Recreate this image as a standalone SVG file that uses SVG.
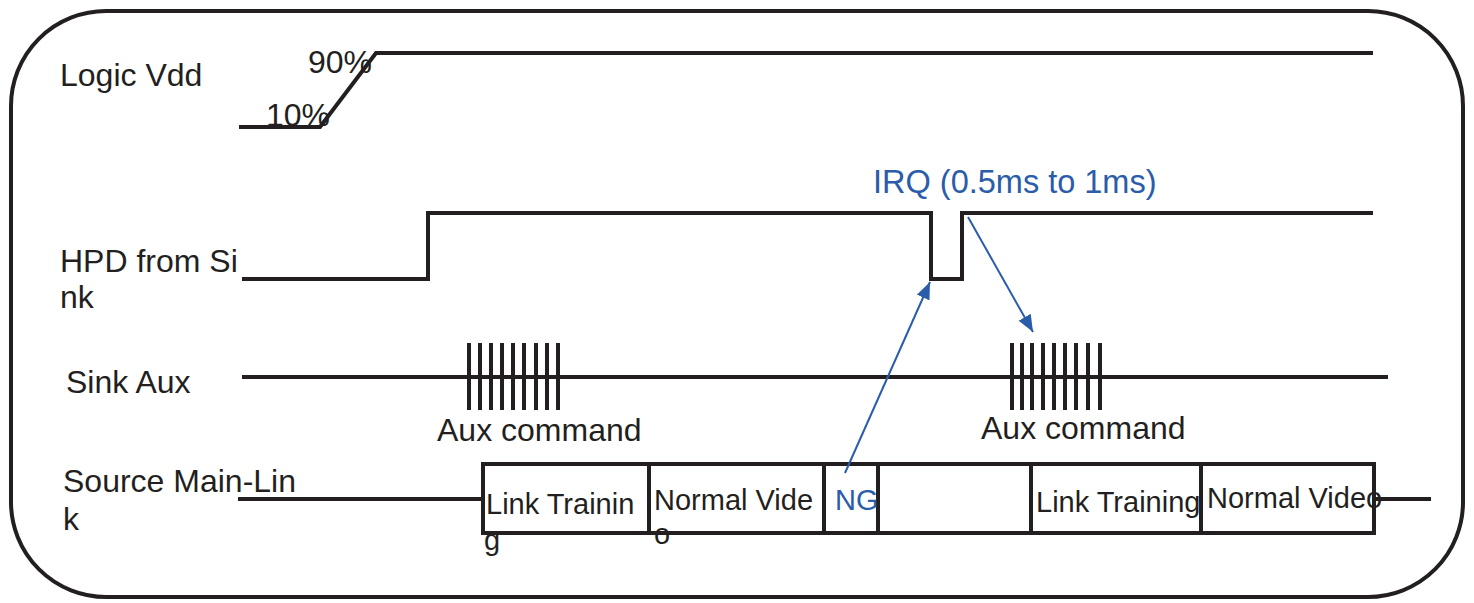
<svg xmlns="http://www.w3.org/2000/svg" width="1474" height="603" viewBox="0 0 1474 603">
<style>
.sig{fill:none;stroke:#231f20;stroke-width:4;stroke-linejoin:miter}
.lbl{font-family:"Liberation Sans",Arial,sans-serif;font-size:32px;fill:#231f20}
.box{font-family:"Liberation Sans",Arial,sans-serif;font-size:29px;fill:#231f20}
.blue{fill:#2a5caa}
.arr{stroke:#2a5caa;stroke-width:2;fill:none}
</style>
<defs>
<marker id="ah" viewBox="0 0 10 10" refX="10" refY="5" markerWidth="17" markerHeight="14" orient="auto" markerUnits="userSpaceOnUse" preserveAspectRatio="none">
<path d="M0,0 L10,5 L0,10 z" fill="#2a5caa"/>
</marker>
</defs>
<rect x="11" y="11" width="1452" height="586" rx="95" ry="95" fill="#fff" stroke="#231f20" stroke-width="4"/>

<g id="logic-vdd">
<text class="lbl" x="60" y="86">Logic Vdd</text>
<polyline class="sig" points="239,127 320,127 376,53 1373,53"/>
<text class="lbl" x="308" y="73">90%</text>
<text class="lbl" x="266" y="126">10%</text>
</g>

<g id="hpd">
<text class="lbl" x="60" y="272">HPD from Si</text>
<text class="lbl" x="60" y="308">nk</text>
<polyline class="sig" points="242,279 428,279 428,213 931,213 931,279 962,279 962,213 1373,213"/>
<text class="lbl blue" x="873" y="193" style="font-size:32.5px">IRQ (0.5ms to 1ms)</text>
</g>

<g id="sink-aux">
<text class="lbl" x="66" y="393">Sink Aux</text>
<line class="sig" x1="242" y1="377" x2="1388" y2="377"/>
<path class="sig" d="M469,343V410M480,343V410M491,343V410M502,343V410M513,343V410M524,343V410M536,343V410M547,343V410M558,343V410"/>
<path class="sig" d="M1012,343V410M1022,343V410M1032,343V410M1043,343V410M1054,343V410M1065,343V410M1076,343V410M1088,343V410M1100,343V410"/>
<text class="lbl" x="437" y="441">Aux command</text>
<text class="lbl" x="981" y="439">Aux command</text>
</g>

<g id="source-main-link">
<text class="lbl" x="63" y="492">Source Main-Lin</text>
<text class="lbl" x="63" y="530">k</text>
<line class="sig" x1="238" y1="499" x2="483" y2="499"/>
<rect class="sig" x="483" y="464" width="891" height="69"/>
<path class="sig" d="M649,464V533M824,464V533M878,464V533M1031,464V533M1201,464V533"/>
<line class="sig" x1="1374" y1="499" x2="1431" y2="499"/>
<text class="box" x="486" y="514">Link Trainin</text>
<text class="box" x="484" y="550">g</text>
<text class="box" x="654" y="510">Normal Vide</text>
<text class="box" x="654" y="544">o</text>
<text class="box blue" x="835" y="510">NG</text>
<text class="box" x="1036" y="512">Link Training</text>
<text class="box" x="1207" y="508">Normal Video</text>
</g>

<g id="connectors">
<line class="arr" x1="845" y1="473" x2="930" y2="282" marker-end="url(#ah)"/>
<line class="arr" x1="968" y1="217" x2="1033" y2="332" marker-end="url(#ah)"/>
</g>
</svg>
